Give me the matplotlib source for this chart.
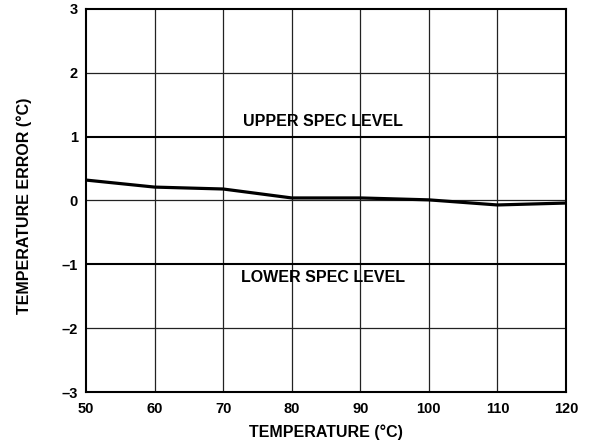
import matplotlib
matplotlib.use("Agg")
import matplotlib.pyplot as plt
from matplotlib.ticker import FuncFormatter

temps = [50, 60, 70, 80, 90, 100, 110, 120]
errors = [0.32, 0.21, 0.18, 0.04, 0.04, 0.01, -0.07, -0.04]
x_ticks = [50, 60, 70, 80, 90, 100, 110, 120]
y_ticks = [-3, -2, -1, 0, 1, 2, 3]
spec_levels = [1, -1]
spec_labels = ["UPPER SPEC LEVEL", "LOWER SPEC LEVEL"]
spec_label_y = [1.23, -1.2]

plt.rcParams['font.family'] = ['Liberation Sans', 'DejaVu Sans']
plt.rcParams['font.weight'] = 'bold'

fig = plt.figure(figsize=(5.92, 4.45), dpi=100)
ax = fig.add_axes([0.1453, 0.1191, 0.956 - 0.1453, 0.9798 - 0.1191])

ax.set_xlim(50, 120)
ax.set_ylim(-3, 3)
ax.set_xticks(x_ticks)
ax.set_yticks(y_ticks)

for xv in x_ticks[1:-1]:
    ax.axvline(xv, color='#222222', lw=0.9, zorder=1)
for yv in y_ticks[1:-1]:
    if yv in spec_levels:
        ax.axhline(yv, color='black', lw=1.5, zorder=1)
    else:
        ax.axhline(yv, color='#222222', lw=0.9, zorder=1)

ax.plot(temps, errors, color='black', lw=2.3, zorder=3)

for ly, lab in zip(spec_label_y, spec_labels):
    ax.text(84.56, ly, lab, ha='center', va='center', fontsize=11.5, fontweight='bold')

ax.xaxis.set_major_formatter(FuncFormatter(lambda v, p: f"{int(v)}"))
ax.yaxis.set_major_formatter(FuncFormatter(lambda v, p: ("\u2013" + str(abs(int(v)))) if v < 0 else str(int(v))))
ax.tick_params(length=0, labelsize=10.5)
ax.tick_params(axis='x', pad=7.5)
ax.tick_params(axis='y', pad=6)
for lab in ax.get_xticklabels() + ax.get_yticklabels():
    lab.set_fontweight('bold')

for sp in ax.spines.values():
    sp.set_linewidth(1.5)

ax.set_xlabel("TEMPERATURE (\u00b0C)", fontsize=11.5, fontweight='bold')
ax.set_ylabel("TEMPERATURE ERROR (\u00b0C)", fontsize=11.5, fontweight='bold')
ax.xaxis.label.set_verticalalignment('center')
ax.yaxis.label.set_verticalalignment('center')
ax.xaxis.set_label_coords((325.5 - 86) / 480, -(432 - 392) / 383)
ax.yaxis.set_label_coords((24 - 86) / 480, (392 - 206) / 383)

fig.savefig("out.png", dpi=100)
